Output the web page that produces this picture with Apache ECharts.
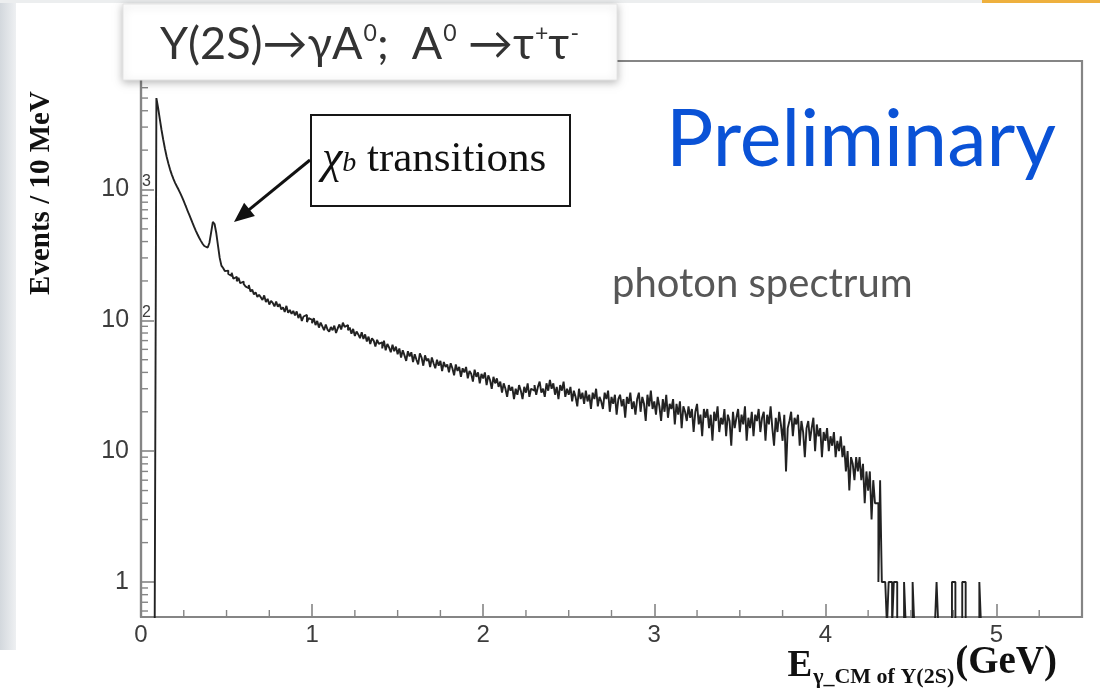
<!DOCTYPE html>
<html><head><meta charset="utf-8">
<script src="https://cdn.jsdelivr.net/npm/echarts@6/dist/echarts.min.js"></script>
<style>html,body{margin:0;padding:0;background:#fff}#c{width:1100px;height:696px}</style>
</head><body><div id="c"></div>
<script>
// ---- data: photon spectrum, events per 10 MeV bin (bin lower edge = index * 0.01 GeV)
const BIN_WIDTH = 0.01;
const counts0to1 = [
  0,0,0,0,0,0,0,0,0,5000,
  4200,3450,2850,2400,2050,1780,1580,1420,1300,1200,
  1120,1055,995,935,875,815,755,700,650,605,
  560,520,485,455,428,405,385,370,360,356,
  392,470,565,545,465,372,300,262,251,238,
  240,226,219,231,208,215,199,211,192,198,
  190,182,176,186,166,172,158,164,151,157,
  150,143,155,138,146,132,141,136,128,139,
  127,133,121,126,116,129,114,120,112,118,
  109,117,104,112,99,107,110,97,104,101
];
const counts1to2 = [
  95,104,92,99,88,96,90,84,93,85,
  82,89,84,91,80,87,93,85,96,89,
  92,84,88,79,86,76,82,78,73,81,
  72,78,69,75,66,73,70,63,71,66,
  68,61,70,59,66,62,57,65,58,63,
  55,61,52,59,54,49,58,53,57,48,
  55,50,46,56,52,45,54,49,51,44,
  52,47,43,50,45,49,41,48,44,46,
  40,47,43,38,46,41,44,37,43,40,
  44,36,41,39,34,42,37,40,33,39
];
const counts2to3 = [
  36,40,32,38,35,30,37,33,36,31,
  34,28,33,30,26,32,29,31,25,30,
  27,32,29,25,31,28,33,26,30,29,
  32,27,31,34,28,30,26,33,29,35,
  30,33,27,31,25,32,29,34,26,30,
  27,31,24,29,26,22,30,25,28,23,
  29,24,27,21,28,25,30,22,26,24,
  21,28,25,29,20,26,23,27,19,25,
  27,22,25,18,26,23,28,21,24,19,
  25,28,20,26,23,17,27,22,29,21
];
const counts3to4 = [
  24,19,26,22,17,25,20,27,18,23,
  21,25,16,23,19,24,15,22,20,17,
  22,18,21,14,20,23,16,19,13,21,
  18,21,15,19,12,20,17,22,14,18,
  16,21,13,19,17,11,20,15,18,21,
  14,19,16,22,12,18,15,20,13,19,
  17,21,14,18,20,12,19,16,22,15,
  11,18,14,20,16,12,19,7,15,17,
  20,13,18,16,19,11,17,14,9,15,
  17,12,15,18,10,16,13,15,9,14
];
const counts4to5 = [
  12,15,10,13,11,14,9,12,10,13,
  9,11,7,10,5,9,8,6,9,7,
  9,6,8,4,7,5,7,3,6,4,
  4,1,6,1,1,1,0,1,1,0,
  1,1,0,0,0,0,1,0,0,0,
  0,1,0,0,0,0,0,0,0,0,
  0,0,0,0,0,1,0,0,0,0,
  0,0,0,0,1,1,0,0,0,0,
  1,1,0,0,0,0,0,0,0,0,
  1,0,0,0,0,0,0,0,0,0
];
const xTickLabels = ['0', '1', '2', '3', '4', '5'];
const yTickLabels = { '0': '1', '1': '10', '2': '10^2', '3': '10^3' };

const X_MIN = 0, X_MAX = 5.5;
const Y_MIN = 0.54, Y_MAX = 9600;
const Y_FLOOR = Y_MIN * 0.85; // empty bins drop below the frame (clipped)

const counts = [].concat(counts0to1, counts1to2, counts2to3, counts3to4, counts4to5);
const histData = counts.map((c, i) => [+(i * BIN_WIDTH).toFixed(2), c > 0 ? c : Y_FLOOR]);
histData.push([+(counts.length * BIN_WIDTH).toFixed(2), Y_FLOOR]);

// ROOT-style minor ticks (x every 0.25 GeV, y at 2..9 per decade)
const minorTicks = [];
for (let k = 1; k * 0.25 < X_MAX; k++) if (k % 4) minorTicks.push([k * 0.25, Y_MIN, 0]);
for (let d = -1; d <= 3; d++) for (let m = 2; m <= 9; m++) {
  const v = m * Math.pow(10, d);
  if (v > Y_MIN && v < Y_MAX) minorTicks.push([X_MIN, v, 1]);
}

const chart = echarts.init(document.getElementById('c'), null, { renderer: 'canvas' });
const AX = '#858585';
const LBL = '#3c3c3c';

// arrow geometry (annotation)
const aFrom = [310, 160], aTip = [234, 222];
const dx = aTip[0] - aFrom[0], dy = aTip[1] - aFrom[1], L = Math.hypot(dx, dy);
const ux = dx / L, uy = dy / L, hl = 20, hw = 8.5;
const base = [aTip[0] - ux * hl, aTip[1] - uy * hl];

chart.setOption({
  animation: false,
  backgroundColor: '#fff',
  grid: { left: 141, right: 18, top: 61, bottom: 79, show: true, borderColor: AX, borderWidth: 2.2,
          backgroundColor: 'rgba(0,0,0,0)', outerBoundsMode: 'none' },
  xAxis: {
    type: 'value', min: X_MIN, max: X_MAX, interval: 1,
    axisLine: { show: true, lineStyle: { color: AX, width: 2.2 } },
    axisTick: { show: true, inside: true, length: 13, lineStyle: { color: AX, width: 1.6 } },
    minorTick: { show: false },
    splitLine: { show: false },
    axisLabel: {
      margin: 6, color: LBL, fontSize: 24, fontFamily: 'Liberation Sans', showMaxLabel: false,
      formatter: v => { const i = Math.round(v); return Math.abs(v - i) < 1e-6 && xTickLabels[i] !== undefined ? xTickLabels[i] : ''; }
    }
  },
  yAxis: {
    type: 'log', logBase: 10, min: Y_MIN, max: Y_MAX,
    axisLine: { show: true, lineStyle: { color: AX, width: 2.2 } },
    axisTick: { show: true, inside: true, length: 13, lineStyle: { color: AX, width: 1.6 } },
    splitLine: { show: false },
    axisLabel: {
      margin: -10, color: LBL, showMinLabel: false, showMaxLabel: false,
      formatter: v => {
        const lg = Math.log10(v), e = Math.round(lg);
        if (Math.abs(lg - e) > 0.01) return '';
        const t = yTickLabels[String(e)];
        if (!t) return '';
        const parts = t.split('^');
        return parts.length > 1 ? '{b|' + parts[0] + '}{e|' + parts[1] + '}' : '{b|' + parts[0] + '}{p|}';
      },
      rich: {
        b: { fontSize: 25, color: LBL, fontFamily: 'Liberation Sans', lineHeight: 28 },
        e: { fontSize: 16, color: LBL, fontFamily: 'Liberation Sans', padding: [0, 0, 15, 13], lineHeight: 16 },
        p: { width: 22 }
      }
    }
  },
  series: [
    {
      type: 'line', data: histData, step: 'end', showSymbol: false, symbol: 'none', clip: true, z: 3,
      lineStyle: { color: '#222', width: 1.9 }, silent: true
    },
    {
      type: 'custom', coordinateSystem: 'cartesian2d', data: minorTicks, silent: true, z: 4,
      renderItem: (params, api) => {
        const p = api.coord([api.value(0), api.value(1)]);
        const isX = api.value(2) === 0;
        return { type: 'line',
          shape: isX ? { x1: p[0], y1: p[1], x2: p[0], y2: p[1] - 7 } : { x1: p[0], y1: p[1], x2: p[0] + 7, y2: p[1] },
          style: { stroke: AX, lineWidth: 1.4 } };
      }
    }
  ],
  graphic: [
    { type: 'rect', z: -1, shape: { x: 0, y: 0, width: 16, height: 650 },
      style: { fill: new echarts.graphic.LinearGradient(0, 0, 1, 0, [{ offset: 0, color: '#d3d8dd' }, { offset: 1, color: '#eef0f2' }]) } },
    { type: 'rect', z: -1, shape: { x: 0, y: 0, width: 1100, height: 3 }, style: { fill: '#eceeef' } },
    { type: 'rect', z: -1, shape: { x: 982, y: 0, width: 118, height: 3 }, style: { fill: '#eeb03e' } },
    // title box
    { type: 'rect', z: 100, shape: { x: 123, y: 4, width: 494, height: 76 },
      style: { fill: '#fff', stroke: '#e4e4e4', lineWidth: 1, shadowBlur: 8, shadowColor: 'rgba(0,0,0,0.28)', shadowOffsetY: 2 } },
    { type: 'text', z: 101, style: {
        x: 160, y: 44, verticalAlign: 'middle', align: 'left',
        text: '{n|Υ(2S)→γA}{s|0}{n|;  A}{s|0}{n| →τ}{s|+}{n|τ}{s|-}',
        rich: {
          n: { fontSize: 45, fontFamily: 'Lato', fill: '#333', lineHeight: 50 },
          s: { fontSize: 23, fontFamily: 'Lato', fill: '#333', padding: [0, 0, 21, 1], lineHeight: 23 }
        } } },
    // Preliminary
    { type: 'text', z: 50, style: { x: 666, y: 141, verticalAlign: 'middle', text: 'Preliminary',
        fontSize: 79, fontFamily: 'Lato', fill: '#0a52d6' } },
    // photon spectrum
    { type: 'text', z: 50, style: { x: 612, y: 284, verticalAlign: 'middle', text: 'photon spectrum',
        fontSize: 40, fontFamily: 'Lato', fill: '#575757' } },
    // chi_b box
    { type: 'rect', z: 50, shape: { x: 311, y: 115, width: 259, height: 91 },
      style: { fill: '#fff', stroke: '#161616', lineWidth: 2 } },
    { type: 'text', z: 51, style: {
        x: 322, y: 160, verticalAlign: 'middle', align: 'left',
        text: '{c|χ}{b|b}{t| transitions}',
        rich: {
          c: { fontSize: 46, fontStyle: 'italic', fontFamily: 'Liberation Serif', fill: '#111', lineHeight: 48 },
          b: { fontSize: 28, fontStyle: 'italic', fontFamily: 'Liberation Serif', fill: '#111', padding: [8, 0, 0, 0], lineHeight: 28 },
          t: { fontSize: 43, fontFamily: 'Liberation Serif', fill: '#111', lineHeight: 48 }
        } } },
    // arrow
    { type: 'line', z: 52, shape: { x1: aFrom[0], y1: aFrom[1], x2: base[0] + ux * 2, y2: base[1] + uy * 2 },
      style: { stroke: '#111', lineWidth: 3 } },
    { type: 'polygon', z: 52, shape: { points: [aTip, [base[0] - uy * hw, base[1] + ux * hw], [base[0] + uy * hw, base[1] - ux * hw]] },
      style: { fill: '#111' } },
    // y axis title
    { type: 'text', z: 50, x: 42, y: 193, rotation: Math.PI / 2,
      style: { x: 0, y: 0, align: 'center', verticalAlign: 'middle', text: 'Events / 10 MeV',
        fontSize: 29, fontWeight: 'bold', fontFamily: 'Liberation Serif', fill: '#111' } },
    // x axis title
    { type: 'text', z: 50, style: {
        x: 1057, y: 666, align: 'right', verticalAlign: 'middle',
        text: '{E|E}{s|γ_CM of Υ(2S)}{u|(GeV)}',
        rich: {
          E: { fontSize: 37, fontWeight: 'bold', fontFamily: 'Liberation Serif', fill: '#111', lineHeight: 40 },
          s: { fontSize: 22, fontWeight: 'bold', fontFamily: 'Liberation Serif', fill: '#111', padding: [22, 0, 0, 1], lineHeight: 22 },
          u: { fontSize: 39, fontWeight: 'bold', fontFamily: 'Liberation Serif', fill: '#111', padding: [0, 0, 6, 1], lineHeight: 39 }
        } } }
  ]
});
</script></body></html>
